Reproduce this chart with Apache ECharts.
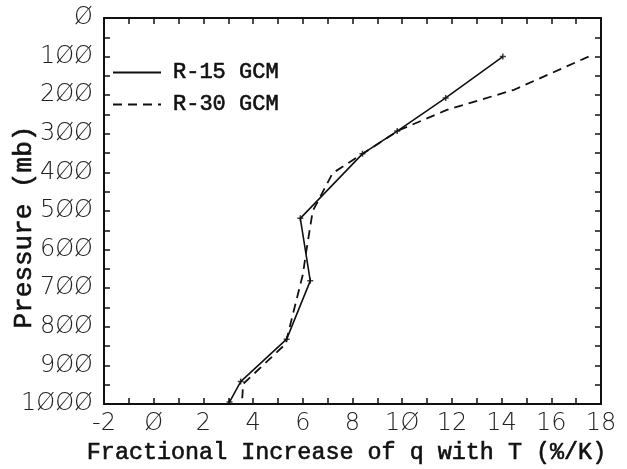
<!DOCTYPE html>
<html>
<head>
<meta charset="utf-8">
<script src="https://cdn.jsdelivr.net/npm/echarts@6/dist/echarts.min.js"></script>
<style>
html,body{margin:0;padding:0;background:#fff;}
#chart{width:627px;height:469px;}
</style>
</head>
<body>
<div id="chart"></div>
<script>
// R-15 GCM (solid)
const r15X = [14.05, 11.75, 9.8, 8.4, 5.9, 6.3, 5.35, 3.5, 3.05];
const r15P = [100, 207, 293, 352, 519, 681, 832, 942, 995];
// R-30 GCM (dashed)
const r30X = [17.5, 14.5, 11.8, 9.9, 8.4, 7.2, 6.4, 6.15, 6.0, 5.3, 3.6, 3.55];
const r30P = [100, 186, 238, 290, 352, 402, 500, 600, 665, 845, 948, 998];
const seriesNames = ['R-15 GCM', 'R-30 GCM'];
const xTitle = 'Fractional Increase of q with T (%/K)';
const yTitle = 'Pressure (mb)';

const zeroFmt = v => String(v).replace(/0/g, 'Ø');
const pairs = (xs, ps) => xs.map((x, i) => [x, ps[i]]);

const tickFont = {fontFamily: 'DejaVu Sans', fontWeight: 200, fontSize: 24, color: '#222'};
const serifText = {fontFamily: 'Liberation Mono', color: '#111', textBorderColor: '#111', textBorderWidth: 0.6};
const axisLine = {show: true, onZero: false, lineStyle: {color: '#111', width: 2}};
const tick = {show: true, inside: true, length: 6, lineStyle: {color: '#111', width: 1.5}};
const minor = {show: true, splitNumber: 2, length: 6, lineStyle: {color: '#111', width: 1.5}};

const xBase = {type: 'value', min: -2, max: 18, interval: 2, axisLine, axisTick: tick, minorTick: minor,
  splitLine: {show: false}, minorSplitLine: {show: false}};
const yBase = {type: 'value', min: 0, max: 1000, interval: 100, inverse: true, axisLine, axisTick: tick, minorTick: minor,
  splitLine: {show: false}, minorSplitLine: {show: false}};

const chart = echarts.init(document.getElementById('chart'), null, {renderer: 'canvas'});
chart.setOption({
  animation: false,
  backgroundColor: '#fff',
  grid: {left: 104, top: 18, right: 26, bottom: 65, containLabel: false, outerBoundsMode: 'none'},
  legend: {
    data: seriesNames,
    orient: 'vertical', left: 112, top: 61, padding: 0,
    itemWidth: 48, itemHeight: 14, itemGap: 9,
    itemStyle: {opacity: 0, color: 'rgba(0,0,0,0)', borderColor: 'rgba(0,0,0,0)', borderWidth: 0},
    textStyle: Object.assign({fontSize: 22, lineHeight: 23, padding: [0, 0, 0, 7]}, serifText)
  },
  xAxis: [
    Object.assign({}, xBase, {position: 'bottom',
      axisLabel: Object.assign({formatter: zeroFmt, margin: 8}, tickFont),
      name: xTitle, nameLocation: 'middle', nameGap: 37, nameMoveOverlap: false,
      nameTextStyle: Object.assign({fontSize: 23.4, padding: [0, 12, 0, 0]}, serifText)}),
    Object.assign({}, xBase, {position: 'top', axisLabel: {show: false}})
  ],
  yAxis: [
    Object.assign({}, yBase, {position: 'left',
      axisLabel: Object.assign({formatter: zeroFmt, margin: 11}, tickFont),
      name: yTitle, nameLocation: 'middle', nameGap: 67, nameMoveOverlap: false,
      nameTextStyle: Object.assign({fontSize: 26, padding: [0, 32, 0, 0]}, serifText)}),
    Object.assign({}, yBase, {position: 'right', axisLabel: {show: false}})
  ],
  series: [
    {name: seriesNames[0], type: 'line', data: pairs(r15X, r15P), symbol: 'none',
      lineStyle: {color: '#111', width: 1.6, type: 'solid'}, itemStyle: {color: '#111'}},
    {name: seriesNames[1], type: 'line', data: pairs(r30X, r30P), symbol: 'none',
      lineStyle: {color: '#111', width: 1.8, type: [9, 6]}, itemStyle: {color: '#111'}},
    {name: 'R-15 markers', type: 'scatter', data: pairs(r15X, r15P),
      symbol: 'path://M0,2L4,2M2,0L2,4', symbolSize: 6,
      itemStyle: {color: 'none', borderColor: '#111', borderWidth: 1.5}}
  ]
});
</script>
</body>
</html>
